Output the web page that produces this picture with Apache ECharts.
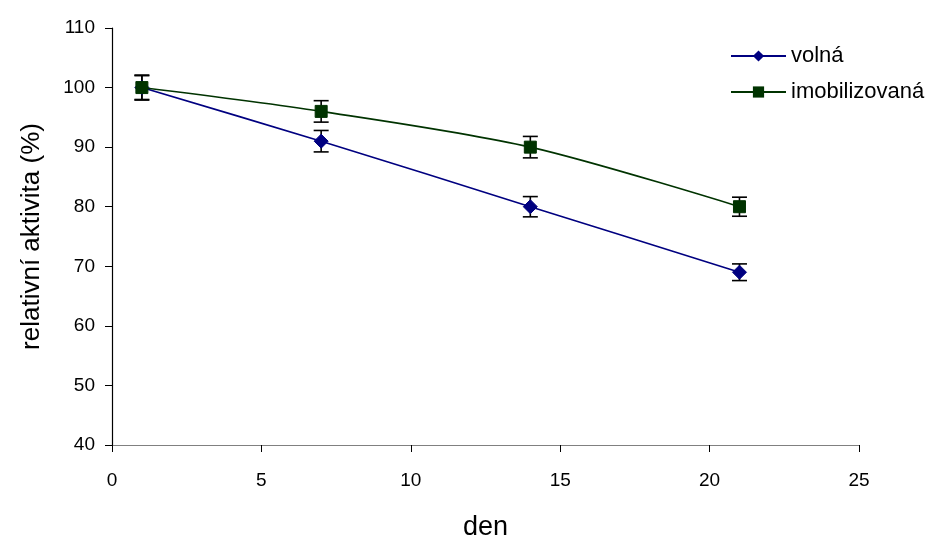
<!DOCTYPE html>
<html>
<head>
<meta charset="utf-8">
<script src="https://cdn.jsdelivr.net/npm/echarts@6/dist/echarts.min.js"></script>
<style>
html,body{margin:0;padding:0;background:#fff;}
#chart{width:934px;height:543px;}
</style>
</head>
<body>
<div id="chart"></div>
<script>
// Days of measurement
const days = [1, 7, 14, 21];
// Relative activity (%) and standard deviations
const volna = [100, 91, 80, 69];
const volnaErr = [2.1, 1.8, 1.7, 1.4];
const imob = [100, 96, 90, 80];
const imobErr = [2.0, 1.8, 1.8, 1.6];

const FONT = 'Liberation Sans, Arial, sans-serif';

function pairs(xs, ys) { return xs.map((x, i) => [x, ys[i]]); }
function errData(xs, ys, es) { return xs.map((x, i) => [x, ys[i] - es[i], ys[i] + es[i]]); }

function errorBars(data, z) {
  return {
    type: 'custom',
    data: data,
    z: z,
    silent: true,
    renderItem: function (params, api) {
      const x = api.value(0);
      const lo = api.coord([x, api.value(1)]);
      const hi = api.coord([x, api.value(2)]);
      const w = 7.5;
      const st = { stroke: '#000', lineWidth: 1.6 };
      return {
        type: 'group',
        children: [
          { type: 'line', shape: { x1: lo[0], y1: lo[1], x2: hi[0], y2: hi[1] }, style: st },
          { type: 'line', shape: { x1: lo[0] - w, y1: lo[1], x2: lo[0] + w, y2: lo[1] }, style: st },
          { type: 'line', shape: { x1: hi[0] - w, y1: hi[1], x2: hi[0] + w, y2: hi[1] }, style: st }
        ]
      };
    }
  };
}

const chart = echarts.init(document.getElementById('chart'));
chart.setOption({
  animation: false,
  backgroundColor: '#fff',
  grid: { left: 112, right: 75, top: 28, bottom: 98, containLabel: false, outerBoundsMode: 'none' },
  legend: {
    left: 725,
    top: 40,
    orient: 'vertical',
    itemGap: 14,
    itemWidth: 55,
    itemHeight: 14,
    textStyle: { fontFamily: FONT, fontSize: 22, color: '#000' },
    data: ['volná', 'imobilizovaná']
  },
  xAxis: {
    type: 'value',
    min: 0, max: 25, interval: 5,
    name: 'den',
    nameLocation: 'middle',
    nameGap: 69,
    nameTextStyle: { fontFamily: FONT, fontSize: 27, color: '#000' },
    axisLine: { onZero: false, lineStyle: { color: '#808080', width: 1.2 } },
    axisTick: { show: true, inside: false, length: 7, lineStyle: { color: '#000' } },
    axisLabel: { fontFamily: FONT, fontSize: 19, color: '#000', margin: 26 },
    splitLine: { show: false }
  },
  yAxis: {
    type: 'value',
    min: 40, max: 110, interval: 10,
    name: 'relativní aktivita (%)',
    nameLocation: 'middle',
    nameGap: 67,
    nameTextStyle: { fontFamily: FONT, fontSize: 26, color: '#000' },
    axisLine: { show: true, lineStyle: { color: '#000', width: 1.2 } },
    axisTick: { show: true, inside: false, length: 7, lineStyle: { color: '#000' } },
    axisLabel: { fontFamily: FONT, fontSize: 19, color: '#000', margin: 17 },
    splitLine: { show: false }
  },
  series: [
    errorBars(errData(days, volna, volnaErr), 1),
    errorBars(errData(days, imob, imobErr), 1),
    {
      name: 'volná',
      type: 'line',
      data: pairs(days, volna),
      smooth: 0.25,
      z: 3,
      symbol: 'diamond',
      symbolSize: 14,
      lineStyle: { color: '#000080', width: 1.6 },
      itemStyle: { color: '#000080', borderColor: '#000080' }
    },
    {
      name: 'imobilizovaná',
      type: 'line',
      data: pairs(days, imob),
      smooth: 0.3,
      z: 4,
      symbol: 'rect',
      symbolSize: 12,
      lineStyle: { color: '#003300', width: 1.6 },
      itemStyle: { color: '#003300', borderColor: '#003300' }
    }
  ]
});
</script>
</body>
</html>
